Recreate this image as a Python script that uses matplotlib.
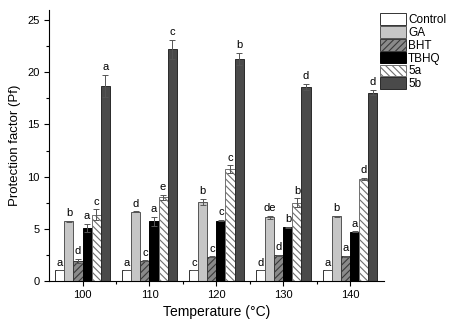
# -*- coding: utf-8 -*-
# Protection factor (Pf) of antioxidants at different temperatures
import matplotlib
matplotlib.use("Agg")
import matplotlib.pyplot as plt
import numpy as np
from matplotlib.ticker import MultipleLocator

plt.rcParams["font.family"] = ["Liberation Sans", "DejaVu Sans"]
plt.rcParams["hatch.linewidth"] = 0.8

temps = ["100", "110", "120", "130", "140"]
series = ["Control", "GA", "BHT", "TBHQ", "5a", "5b"]

control = [1.0, 1.0, 1.0, 1.0, 1.0]
ga = [5.7, 6.63, 7.57, 6.1, 6.2]
bht = [1.9, 1.92, 2.3, 2.44, 2.37]
tbhq = [5.07, 5.7, 5.77, 5.13, 4.7]
c5a = [6.35, 8.0, 10.74, 7.5, 9.78]
c5b = [18.7, 22.2, 21.3, 18.6, 18.05]

control_err = [0.0, 0.0, 0.0, 0.0, 0.0]
ga_err = [0.05, 0.03, 0.28, 0.15, 0.05]
bht_err = [0.2, 0.05, 0.05, 0.05, 0.05]
tbhq_err = [0.4, 0.45, 0.08, 0.05, 0.05]
c5a_err = [0.5, 0.27, 0.35, 0.4, 0.1]
c5b_err = [1.05, 0.9, 0.55, 0.3, 0.25]

letters = [
    ["a", "a", "c", "d", "a"],
    ["b", "d", "b", "de", "b"],
    ["d", "c", "c", "d", "a"],
    ["a", "a", "c", "b", "a"],
    ["c", "e", "c", "b", "d"],
    ["a", "c", "b", "d", "d"],
]

values = [control, ga, bht, tbhq, c5a, c5b]
errors = [control_err, ga_err, bht_err, tbhq_err, c5a_err, c5b_err]
styles = [
    dict(facecolor="white", edgecolor="#333333", hatch=None),
    dict(facecolor="#c6c6c6", edgecolor="#555555", hatch=None),
    dict(facecolor="#8a8a8a", edgecolor="#3a3a3a", hatch="/////"),
    dict(facecolor="black", edgecolor="black", hatch=None),
    dict(facecolor="white", edgecolor="#707070", hatch="\\\\\\\\\\"),
    dict(facecolor="#4a4a4a", edgecolor="#2a2a2a", hatch=None),
]

fig = plt.figure(figsize=(4.5, 3.28), dpi=100)
ax = fig.add_axes([0.109, 0.144, 0.744, 0.826])

x = np.arange(len(temps))
w = 0.135
handles = []
for i, (vals, errs, st) in enumerate(zip(values, errors, styles)):
    pos = x + (i - 2.5) * w
    b = ax.bar(pos, vals, width=w, facecolor=st["facecolor"],
               edgecolor=st["edgecolor"], hatch=st["hatch"], linewidth=0.7,
               label=series[i], zorder=2)
    handles.append(b)
    ax.errorbar(pos, vals, yerr=errs, fmt="none", ecolor="#555555",
                elinewidth=0.7, capsize=2, capthick=0.7, zorder=3)
    for p, v, e, lt in zip(pos, vals, errs, letters[i]):
        ax.text(p, v + e + 0.25, lt, ha="center", va="bottom", fontsize=8)

ax.set_xlim(-0.5, 4.5)
ax.set_ylim(0, 26)
ax.set_xticks(x)
ax.set_xticklabels(temps)
ax.set_xticks(x[:-1] + 0.5, minor=True)
ax.yaxis.set_major_locator(MultipleLocator(5))
ax.yaxis.set_minor_locator(MultipleLocator(2.5))
ax.tick_params(axis="both", which="major", direction="out", length=3.5,
               width=0.8, labelsize=8)
ax.tick_params(axis="both", which="minor", direction="out", length=2,
               width=0.8)
ax.spines["top"].set_visible(False)
ax.spines["right"].set_visible(False)
ax.set_xlabel("Temperature (°C)", fontsize=10, labelpad=3)
ax.set_ylabel("Protection factor (Pf)", fontsize=9.5, labelpad=4)

fig.legend(handles=handles, loc="upper left", bbox_to_anchor=(0.844, 0.96),
           frameon=False, fontsize=8.5, handlelength=2.2, handleheight=1.15,
           labelspacing=0.0, handletextpad=0.2, borderpad=0.0,
           borderaxespad=0.0)

fig.savefig("out.png", dpi=100)
